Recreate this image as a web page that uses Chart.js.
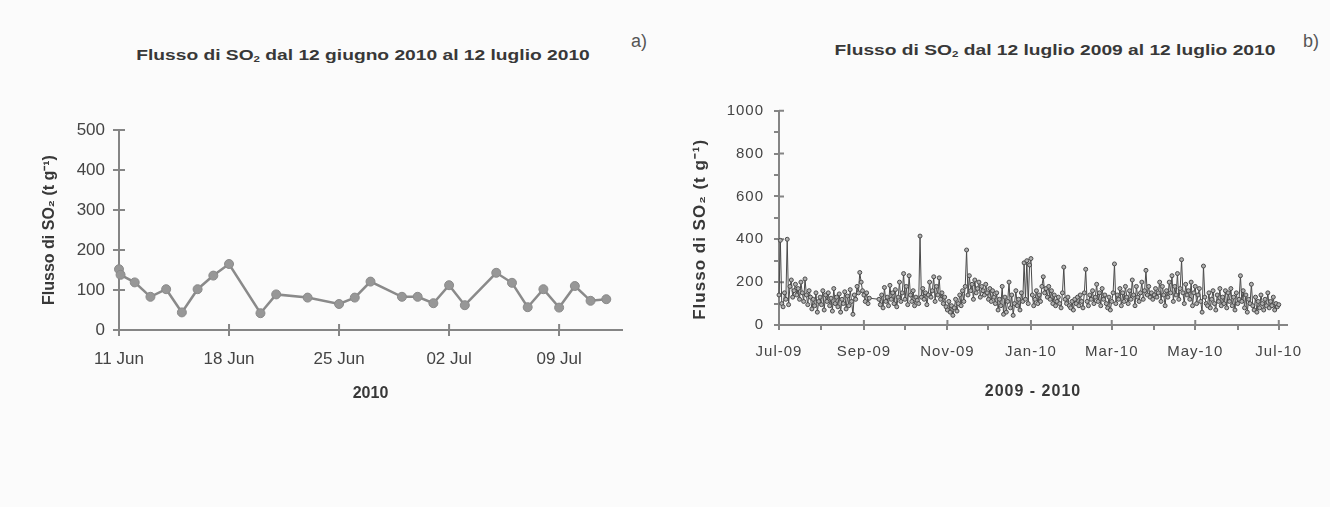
<!DOCTYPE html>
<html>
<head>
<meta charset="utf-8">
<script src="https://cdn.jsdelivr.net/npm/chart.js@4.4.1/dist/chart.umd.min.js"></script>
<style>
  html, body { margin: 0; padding: 0; background: #fbfbfb; }
  body { width: 1330px; height: 507px; position: relative; overflow: hidden; font-family: "Liberation Sans", Arial, sans-serif; }
  canvas { position: absolute; }
  .title { position: absolute; width: 400px; text-align: center; font-weight: bold; font-size: 15px; line-height: 17px; color: #383838; white-space: nowrap; transform: scaleX(1.28); transform-origin: center; }
  .title sub { font-size: 9px; vertical-align: -2px; line-height: 0; }
  .panel { position: absolute; font-size: 18px; color: #555; }
</style>
</head>
<body>
<div class="title" style="left:163px; top:46px;">Flusso di SO<sub>2</sub> dal 12 giugno 2010 al 12 luglio 2010</div>
<div class="panel" style="left:631px; top:31px;">a)</div>
<div class="title" style="left:855px; top:41px;">Flusso di SO<sub>2</sub> dal 12 luglio 2009 al 12 luglio 2010</div>
<div class="panel" style="left:1303px; top:31px;">b)</div>

<canvas id="chartA" width="660" height="320" style="left:0px; top:100px;"></canvas>
<canvas id="chartB" width="650" height="340" style="left:680px; top:80px;"></canvas>

<script>
// a) daily flux, 11 Jun - 12 Jul 2010 (x = days since 11 Jun)
const aDays = [0, 0.1, 1, 2, 3, 4, 5, 6, 7, 9, 10, 12, 14, 15, 16, 18, 19, 20, 21, 22, 24, 25, 26, 27, 28, 29, 30, 31];
const aFlux = [152, 138, 119, 83, 102, 44, 102, 136, 165, 42, 89, 81, 65, 81, 121, 83, 83, 67, 112, 62, 143, 118, 57, 102, 56, 110, 73, 77];
const aTickDays = [0, 7, 14, 21, 28];
const aTickLabels = ['11 Jun', '18 Jun', '25 Jun', '02 Jul', '09 Jul'];

// b) daily flux, 12 Jul 2009 - 12 Jul 2010 (index = days since 12 Jul 2009, null = no data)
const bFlux = [
  140, 395, 100, 85, 150, 120, 400, 95, 180, 210, 130, 160, 190, 140, 170,
  120, 200, 150, 110, 215, 140, 95, 160, 130, 75, 120, 90, 150, 60, 110,
  130, 95, 160, 70, 140, 110, 150, 90, 125, 65, 170, 100, 130, 85, 145,
  60, 120, 100, 155, 75, 135, 90, 165, 110, 50, 140, 120, 180, 150, 245,
  200, 160, 140, 110, 150, 100, 125, null, null, null, null, null, null, 120, 95,
  140, 80, 175, 110, 130, 90, 185, 120, 150, 100, 165, 85, 130, 200, 110,
  150, 240, 120, 180, 95, 230, 140, 110, 160, 90, 130, 115, 100, 415, 130,
  170, 120, 150, 95, 140, 200, 130, 160, 225, 110, 180, 140, 220, 120, 150,
  100, 130, 85, 70, 110, 60, 90, 45, 80, 120, 65, 100, 140, 90, 160,
  110, 180, 350, 140, 230, 160, 190, 120, 210, 150, 170, 200, 130, 180, 160,
  140, 190, 150, 120, 170, 110, 160, 130, 100, 150, 70, 120, 90, 180, 50,
  130, 60, 110, 200, 80, 140, 45, 100, 160, 90, 120, 70, 150, 110, 290,
  120, 300, 100, 280, 310, 140, 90, 120, 160, 100, 140, 110, 180, 225, 150,
  170, 130, 180, 120, 160, 100, 140, 90, 110, 130, 100, 80, 150, 270, 120,
  100, 130, 90, 80, 110, 70, 120, 100, 130, 90, 140, 110, 80, 150, 260,
  110, 90, 140, 120, 160, 100, 130, 190, 110, 150, 90, 170, 120, 140, 100,
  80, 130, 70, 110, 150, 285, 100, 140, 120, 170, 90, 150, 110, 180, 130,
  100, 160, 120, 210, 140, 90, 180, 130, 110, 150, 200, 120, 160, 255, 140,
  180, 130, 150, 120, 140, 170, 130, 150, 200, 110, 180, 140, 90, 160, 130,
  200, 150, 230, 110, 180, 140, 240, 120, 170, 305, 150, 100, 190, 140, 160,
  120, 200, 90, 150, 180, 100, 140, 170, 110, 60, 275, 130, 100, 90, 150,
  80, 120, 160, 100, 70, 140, 110, 170, 90, 130, 100, 160, 80, 150, 110,
  170, 90, 130, 70, 150, 100, 120, 230, 110, 160, 80, 140, 60, 120, 100,
  190, 90, 70, 130, 60, 110, 80, 140, 100, 70, 120, 90, 150, 80, 110,
  90, 130, 70, 100, 85, 95
];
const bTickDays = [0, 31, 62, 92, 123, 153, 184, 215, 243, 274, 304, 335, 365];
const bTickLabels = ['Jul-09', '', 'Sep-09', '', 'Nov-09', '', 'Jan-10', '', 'Mar-10', '', 'May-10', '', 'Jul-10'];

const yTitle = 'Flusso di SO\u2082 (t g\u207B\u00B9)';
const axisGrey = '#858585';
const textGrey = '#444444';

Chart.defaults.font.family = '"Liberation Sans", Arial, sans-serif';
Chart.defaults.color = textGrey;

// tick marks that also cross into the plot, like the original
function innerTicks(len, isMajorX, isMajorY) {
  return {
    id: 'innerTicks',
    beforeDatasetsDraw(chart) {
      const { ctx, chartArea: ca, scales: { x, y } } = chart;
      ctx.save();
      ctx.strokeStyle = axisGrey;
      ctx.lineWidth = 2;
      ctx.beginPath();
      x.ticks.forEach((t, i) => {
        if (t.value === 0 || !isMajorX(t.value, i)) return;
        const px = x.getPixelForValue(t.value);
        ctx.moveTo(px, ca.bottom);
        ctx.lineTo(px, ca.bottom - len);
      });
      y.ticks.forEach((t, i) => {
        if (t.value === 0 || !isMajorY(t.value, i)) return;
        const py = y.getPixelForValue(t.value);
        ctx.moveTo(ca.left, py);
        ctx.lineTo(ca.left + len, py);
      });
      ctx.stroke();
      ctx.restore();
    }
  };
}

const spacing = {
  id: 'spacing',
  beforeUpdate(c) { c.ctx.letterSpacing = '1px'; },
  beforeDraw(c) { c.ctx.letterSpacing = '1px'; }
};

new Chart(document.getElementById('chartA'), {
  type: 'line',
  data: {
    datasets: [{
      data: aDays.map((d, i) => ({ x: d, y: aFlux[i] })),
      borderColor: '#8a8a8a',
      borderWidth: 2.5,
      pointRadius: 4.5,
      pointBackgroundColor: '#979797',
      pointBorderColor: '#8a8a8a',
      pointBorderWidth: 1,
      tension: 0,
      clip: 8
    }]
  },
  options: {
    responsive: false,
    animation: false,
    layout: { padding: { top: 30, right: 38, left: 0, bottom: 0 } },
    plugins: { legend: { display: false }, tooltip: { enabled: false } },
    scales: {
      x: {
        type: 'linear', min: 0, max: 32,
        afterBuildTicks: s => { s.ticks = aTickDays.map(v => ({ value: v })); },
        afterFit: s => { s.height = 90; },
        ticks: { callback: v => aTickLabels[aTickDays.indexOf(v)] ?? '', padding: 13, font: { size: 17 }, maxRotation: 0, autoSkip: false },
        grid: { drawOnChartArea: false, color: axisGrey, lineWidth: 2, tickLength: 6 },
        border: { color: axisGrey, width: 2 },
        title: { display: true, text: '2010', font: { size: 16, weight: 'bold' }, padding: { bottom: 17 }, color: '#383838' }
      },
      y: {
        min: 0, max: 500,
        afterFit: s => { s.width = 119; },
        ticks: { stepSize: 100, padding: 8, font: { size: 17 } },
        grid: { drawOnChartArea: false, color: axisGrey, lineWidth: 2, tickLength: 6 },
        border: { color: axisGrey, width: 2 },
        title: { display: true, text: yTitle, font: { size: 16, weight: 'bold' }, padding: { top: 40 }, color: '#383838' }
      }
    }
  },
  plugins: [innerTicks(6, () => true, () => true)]
});

new Chart(document.getElementById('chartB'), {
  type: 'line',
  data: {
    datasets: [{
      data: bFlux.map((v, i) => ({ x: i, y: v })),
      borderColor: '#4a4a4a',
      borderWidth: 1,
      pointRadius: 2,
      pointBackgroundColor: '#b0b0b0',
      pointBorderColor: '#4a4a4a',
      pointBorderWidth: 1,
      spanGaps: true,
      tension: 0,
      clip: 6
    }]
  },
  options: {
    responsive: false,
    animation: false,
    layout: { padding: { top: 30.7, right: 43, left: 0, bottom: 0 } },
    plugins: { legend: { display: false }, tooltip: { enabled: false } },
    scales: {
      x: {
        type: 'linear', min: 0, max: 371,
        afterBuildTicks: s => { s.ticks = bTickDays.map(v => ({ value: v })); },
        afterFit: s => { s.height = 95; },
        ticks: { callback: v => bTickLabels[bTickDays.indexOf(v)] ?? '', padding: 13, font: { size: 15 }, maxRotation: 0, autoSkip: false },
        grid: { drawOnChartArea: false, color: axisGrey, lineWidth: 2, tickLength: 5 },
        border: { color: axisGrey, width: 2 },
        title: { display: true, text: '2009 - 2010', font: { size: 16, weight: 'bold' }, padding: { bottom: 19 }, color: '#383838' }
      },
      y: {
        min: 0, max: 1000,
        afterFit: s => { s.width = 99; },
        ticks: { stepSize: 100, callback: v => (v % 200 === 0 ? v : ''), padding: 10, font: { size: 15 } },
        grid: { drawOnChartArea: false, color: axisGrey, lineWidth: 2, tickLength: 5 },
        border: { color: axisGrey, width: 2 },
        title: { display: true, text: yTitle + '    ', font: { size: 17, weight: 'bold' }, padding: { top: 10 }, color: '#383838' }
      }
    }
  },
  plugins: [spacing, innerTicks(5, (v, i) => i % 2 === 0, v => v % 200 === 0)]
});
</script>
</body>
</html>
